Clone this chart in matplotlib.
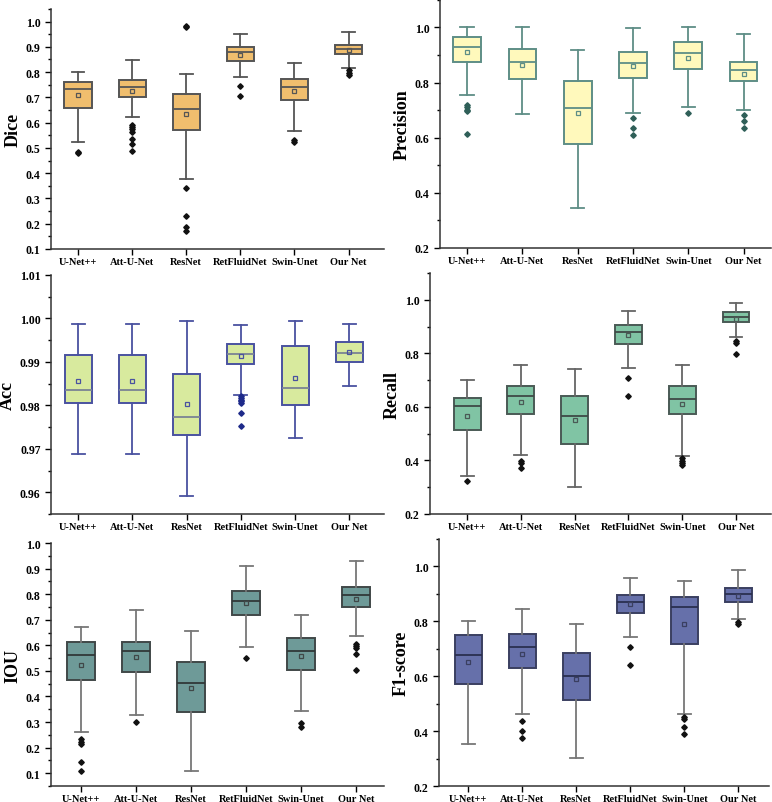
import matplotlib
matplotlib.use("Agg")
import matplotlib.pyplot as plt
from matplotlib.ticker import MultipleLocator, FormatStrFormatter

plt.rcParams['font.family'] = ['Liberation Serif', 'DejaVu Serif']
plt.rcParams['font.weight'] = 'bold'

models = ['U-Net++', 'Att-U-Net', 'ResNet', 'RetFluidNet', 'Swin-Unet', 'Our Net']

# 五数: [whislo, q1, med, q3, whishi]
dice_box = [[0.524, 0.659, 0.734, 0.762, 0.800],
            [0.621, 0.703, 0.739, 0.767, 0.846],
            [0.376, 0.572, 0.654, 0.712, 0.791],
            [0.779, 0.842, 0.880, 0.899, 0.950],
            [0.566, 0.689, 0.741, 0.771, 0.836],
            [0.818, 0.870, 0.893, 0.909, 0.958]]
dice_mean = [0.708, 0.725, 0.633, 0.866, 0.725, 0.886]
dice_out = [[0.479, 0.484],
            [0.589, 0.583, 0.576, 0.563, 0.537, 0.517, 0.488],
            [0.982, 0.978, 0.341, 0.232, 0.186, 0.170],
            [0.743, 0.705],
            [0.532, 0.525],
            [0.808, 0.797, 0.787]]

prec_box = [[0.753, 0.873, 0.928, 0.966, 1.000],
            [0.685, 0.811, 0.873, 0.922, 1.000],
            [0.344, 0.578, 0.708, 0.807, 0.919],
            [0.691, 0.815, 0.870, 0.909, 0.996],
            [0.710, 0.848, 0.906, 0.946, 1.000],
            [0.700, 0.805, 0.846, 0.873, 0.976]]
prec_mean = [0.912, 0.865, 0.689, 0.860, 0.890, 0.832]
prec_out = [[0.719, 0.710, 0.702, 0.695, 0.614],
            [],
            [],
            [0.673, 0.636, 0.608],
            [0.690],
            [0.683, 0.660, 0.634]]

acc_box = [[0.96873, 0.98052, 0.98343, 0.99162, 0.99874],
           [0.96873, 0.98052, 0.98343, 0.99162, 0.99874],
           [0.95916, 0.97309, 0.97730, 0.98718, 0.99936],
           [0.98243, 0.98940, 0.99178, 0.99407, 0.99859],
           [0.97256, 0.97998, 0.98404, 0.99361, 0.99936],
           [0.98443, 0.98986, 0.99208, 0.99453, 0.99874]]
acc_mean = [0.98557, 0.98557, 0.98021, 0.99139, 0.98634, 0.99224]
acc_out = [[], [], [],
           [0.98205, 0.98167, 0.98129, 0.98090, 0.98052, 0.97830, 0.97524],
           [], []]

recall_box = [[0.343, 0.514, 0.603, 0.634, 0.699],
              [0.420, 0.574, 0.640, 0.677, 0.755],
              [0.300, 0.460, 0.567, 0.640, 0.741],
              [0.746, 0.836, 0.878, 0.905, 0.960],
              [0.415, 0.572, 0.628, 0.677, 0.755],
              [0.862, 0.918, 0.937, 0.953, 0.988]]
recall_mean = [0.567, 0.618, 0.552, 0.867, 0.612, 0.930]
recall_out = [[0.324],
              [0.397, 0.392, 0.372],
              [],
              [0.709, 0.640],
              [0.408, 0.399, 0.390, 0.382],
              [0.846, 0.840, 0.797]]

iou_box = [[0.260, 0.465, 0.564, 0.613, 0.673],
           [0.327, 0.494, 0.577, 0.615, 0.738],
           [0.109, 0.340, 0.453, 0.534, 0.657],
           [0.592, 0.718, 0.772, 0.812, 0.911],
           [0.343, 0.502, 0.577, 0.628, 0.720],
           [0.636, 0.751, 0.797, 0.829, 0.928]]
iou_mean = [0.524, 0.554, 0.435, 0.765, 0.559, 0.783]
iou_out = [[0.233, 0.223, 0.213, 0.144, 0.107],
           [0.300],
           [],
           [0.549],
           [0.297, 0.279],
           [0.605, 0.597, 0.589, 0.566, 0.503]]

f1_box = [[0.352, 0.573, 0.676, 0.750, 0.802],
          [0.464, 0.629, 0.707, 0.754, 0.845],
          [0.302, 0.514, 0.601, 0.684, 0.789],
          [0.743, 0.830, 0.870, 0.897, 0.959],
          [0.461, 0.716, 0.851, 0.890, 0.948],
          [0.810, 0.872, 0.898, 0.920, 0.987]]
f1_mean = [0.652, 0.682, 0.590, 0.862, 0.789, 0.893]
f1_out = [[],
          [0.438, 0.401, 0.375],
          [],
          [0.705, 0.640],
          [0.451, 0.445, 0.415, 0.390],
          [0.796, 0.789]]


def draw_panel(ax, box, means, outs, ylabel, fill, edge, line, med_c, flier_c,
               ylim, xlim, major, minor, fmt):
    stats = []
    for b, m, o in zip(box, means, outs):
        stats.append({'whislo': b[0], 'q1': b[1], 'med': b[2], 'q3': b[3],
                      'whishi': b[4], 'mean': m, 'fliers': o})
    ax.bxp(stats, positions=range(1, 7), widths=0.5, capwidths=0.24,
           patch_artist=True, showmeans=True,
           boxprops=dict(facecolor=fill, edgecolor=edge, linewidth=1.4),
           whiskerprops=dict(color=line, linewidth=1.3),
           capprops=dict(color=line, linewidth=1.3),
           medianprops=dict(color=med_c, linewidth=1.3),
           meanprops=dict(marker='s', markersize=3.2, markerfacecolor='none',
                          markeredgecolor=edge, markeredgewidth=0.9),
           flierprops=dict(marker='D', markersize=2.8, markerfacecolor=flier_c,
                           markeredgecolor=flier_c))
    ax.set_xlim(*xlim)
    ax.set_ylim(*ylim)
    ax.set_xticks(range(1, 7))
    ax.set_xticklabels(models, fontsize=7.5, fontweight='bold')
    ax.yaxis.set_major_locator(MultipleLocator(major))
    ax.yaxis.set_minor_locator(MultipleLocator(minor))
    ax.yaxis.set_major_formatter(FormatStrFormatter(fmt))
    ax.tick_params(axis='y', labelsize=8.5, direction='out', length=4, width=1)
    ax.tick_params(axis='y', which='minor', length=2.5, width=1)
    ax.tick_params(axis='x', direction='out', length=4, width=1, pad=2)
    for lbl in ax.get_yticklabels():
        lbl.set_fontweight('bold')
    ax.set_ylabel(ylabel, fontsize=13, fontweight='bold', labelpad=3)
    ax.spines['top'].set_visible(False)
    ax.spines['right'].set_visible(False)
    for s in ('left', 'bottom'):
        ax.spines[s].set_color('#333333')
        ax.spines[s].set_linewidth(1.1)


fig = plt.figure(figsize=(7.72, 8.03), dpi=100)

ax1 = fig.add_axes([0.066, 0.6887, 0.431, 0.299])
draw_panel(ax1, dice_box, dice_mean, dice_out, 'Dice',
           '#F0BE6E', '#555555', '#555555', '#555555', '#111111',
           (0.1, 1.05), (0.5, 6.65), 0.1, 0.05, '%.1f')

ax2 = fig.add_axes([0.570, 0.690, 0.429, 0.309])
draw_panel(ax2, prec_box, prec_mean, prec_out, 'Precision',
           '#FFF9BC', '#5E8E86', '#5E8E86', '#5E8E86', '#2F5F58',
           (0.2, 1.1), (0.51, 6.5), 0.2, 0.1, '%.1f')

ax3 = fig.add_axes([0.066, 0.3587, 0.431, 0.2976])
draw_panel(ax3, acc_box, acc_mean, acc_out, 'Acc',
           '#D8EA9E', '#4A52A0', '#4A52A0', '#7A8494', '#1E2A8A',
           (0.955, 1.01), (0.5, 6.63), 0.01, 0.005, '%.2f')

ax4 = fig.add_axes([0.557, 0.3587, 0.4417, 0.300])
draw_panel(ax4, recall_box, recall_mean, recall_out, 'Recall',
           '#80C4A4', '#4A5A55', '#666666', '#3E4A46', '#111111',
           (0.2, 1.1), (0.31, 6.65), 0.2, 0.1, '%.1f')

ax5 = fig.add_axes([0.066, 0.0199, 0.431, 0.3026])
draw_panel(ax5, iou_box, iou_mean, iou_out, 'IOU',
           '#6E9A98', '#404848', '#777777', '#303838', '#111111',
           (0.05, 1.0), (0.45, 6.5), 0.1, 0.05, '%.1f')

ax6 = fig.add_axes([0.5687, 0.0199, 0.4275, 0.3076])
draw_panel(ax6, f1_box, f1_mean, f1_out, 'F1-score',
           '#6670AA', '#3A3F60', '#777777', '#2A2F50', '#111111',
           (0.2, 1.1), (0.46, 6.57), 0.2, 0.1, '%.1f')

plt.savefig('out.png', dpi=100, facecolor='white')
